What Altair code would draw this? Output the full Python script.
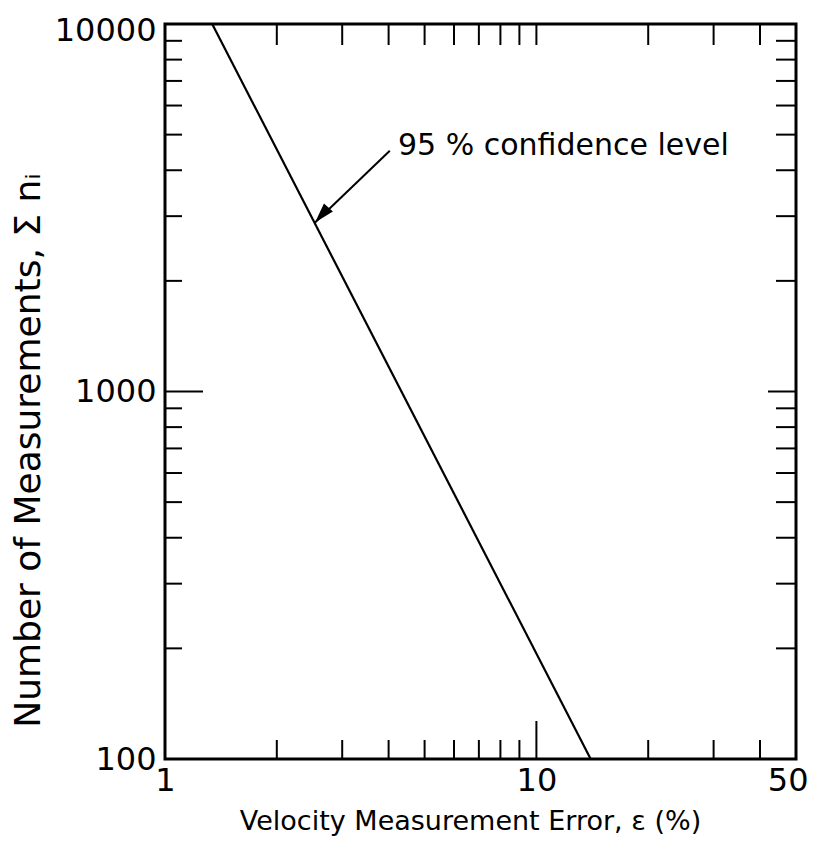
import altair as alt
import pandas as pd

# Curve (95% confidence level)
curve_x = [1.34, 14.0]
curve_y = [10000, 100]

# Axis label values
x_labels = [1, 10, 50]
y_labels = [100, 1000, 10000]

# Tick positions
x_minor = [2, 3, 4, 5, 6, 7, 8, 9, 20, 30, 40]
x_major = [10]
y_minor = [200, 300, 400, 500, 600, 700, 800, 900,
           2000, 3000, 4000, 5000, 6000, 7000, 8000, 9000]
y_major = [1000]

# Annotation
ann_text = ["95 % confidence level"]
ann_x = [4.24]
ann_y = [4410]
arrow_x = [4.03, 2.535]
arrow_y = [4520, 2884]

W, H = 631, 735
FONT = "DejaVu Sans"

xs = alt.Scale(type="log", domain=[1, 50], nice=False)
ys = alt.Scale(type="log", domain=[100, 10000], nice=False)

curve_df = pd.DataFrame({"x": curve_x, "y": curve_y})

base = alt.Chart(curve_df).mark_line(color="black", strokeWidth=2.2).encode(
    x=alt.X("x:Q", scale=xs,
            axis=alt.Axis(values=x_labels, ticks=False, domain=False, grid=False,
                          labelFont=FONT, labelFontSize=32, labelColor="black",
                          labelPadding=6, format="d", labelFlush=False,
                          labelAlign=alt.condition("datum.value == 50",
                                                   alt.value("right"), alt.value("center")),
                          labelOffset=alt.condition("datum.value == 50",
                                                    alt.value(12), alt.value(0)),
                          title="Velocity Measurement Error, ε (%)",
                          titleFont=FONT, titleFontSize=27, titleFontWeight="normal",
                          titleColor="black", titleY=49, titleBaseline="top",
                          titleX=305, titleAlign="center")),
    y=alt.Y("y:Q", scale=ys,
            axis=alt.Axis(values=y_labels, ticks=False, domain=False, grid=False,
                          labelFont=FONT, labelFontSize=32, labelColor="black",
                          labelPadding=9, format="d", labelFlush=False,
                          labelOffset=alt.condition("datum.value == 10000",
                                                    alt.value(6), alt.value(0)),
                          title="Number of Measurements, Σ nᵢ",
                          titleFont=FONT, titleFontSize=36, titleFontWeight="normal",
                          titleColor="black", titleX=-118, titleY=426,
                          titleAlign="center", titleBaseline="bottom")),
)

xminor_df = pd.DataFrame({"x": x_minor})
xmajor_df = pd.DataFrame({"x": x_major})
yminor_df = pd.DataFrame({"y": y_minor})
ymajor_df = pd.DataFrame({"y": y_major})

def xticks(df, y0, y1, sw=2):
    return alt.Chart(df).mark_rule(color="black", strokeWidth=sw).encode(
        x=alt.X("x:Q", scale=xs), y=alt.value(y0), y2=alt.value(y1))

def yticks(df, x0, x1, sw=2):
    return alt.Chart(df).mark_rule(color="black", strokeWidth=sw).encode(
        y=alt.Y("y:Q", scale=ys), x=alt.value(x0), x2=alt.value(x1))

ticks = [
    xticks(xminor_df, H, H - 19),
    xticks(xmajor_df, H, H - 38),
    xticks(xminor_df, 0, 21),
    xticks(xmajor_df, 0, 21),
    yticks(yminor_df, 0, 17),
    yticks(ymajor_df, 0, 38),
    yticks(yminor_df, W, W - 20),
    yticks(ymajor_df, W, W - 28),
]

arrow_df = pd.DataFrame({"x": arrow_x, "y": arrow_y})
arrow_line = alt.Chart(arrow_df).mark_line(color="black", strokeWidth=2).encode(
    x=alt.X("x:Q", scale=xs), y=alt.Y("y:Q", scale=ys))

tip_df = pd.DataFrame({"x": arrow_x[1:], "y": arrow_y[1:]})
arrow_head = alt.Chart(tip_df).mark_point(
    shape="M0,0L-0.3,1L0.3,1Z", filled=True, color="black", opacity=1,
    size=1600, angle=222, strokeWidth=0).encode(
    x=alt.X("x:Q", scale=xs), y=alt.Y("y:Q", scale=ys))

ann_df = pd.DataFrame({"x": ann_x, "y": ann_y, "t": ann_text})
ann = alt.Chart(ann_df).mark_text(
    align="left", baseline="alphabetic", font=FONT, fontSize=30, color="black").encode(
    x=alt.X("x:Q", scale=xs), y=alt.Y("y:Q", scale=ys), text="t:N")

chart = alt.layer(base, *ticks, arrow_line, arrow_head, ann).properties(
    width=W, height=H,
    autosize=alt.AutoSizeParams(type="none"),
    padding={"left": 157, "top": 16, "right": 12, "bottom": 80},
    background="white",
).configure_view(stroke="black", strokeWidth=3)

chart.save("out.html", embed_options={"renderer": "svg", "actions": False})
